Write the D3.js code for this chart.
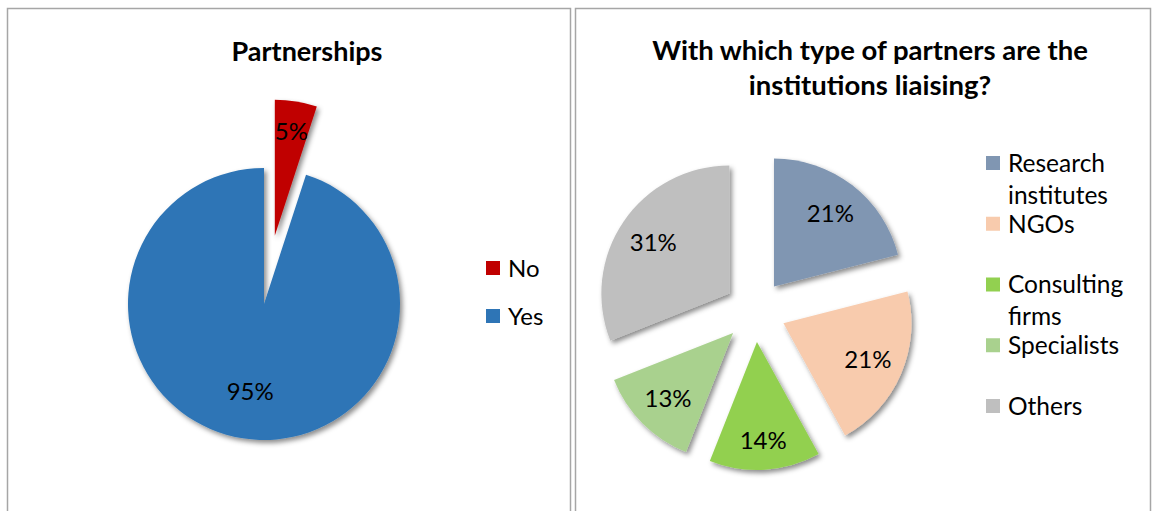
<!DOCTYPE html>
<html>
<head>
<meta charset="utf-8">
<script src="https://cdn.jsdelivr.net/npm/d3@7"></script>
<style>
  html, body { margin: 0; padding: 0; background: #fff; }
  svg { display: block; }
  text { font-family: Lato, "Open Sans", sans-serif; fill: #000; }
</style>
</head>
<body>
<svg id="chart" width="1154" height="511"></svg>
<script>
// Partnerships: share of institutions with / without partners
const partnershipCategories = ["No", "Yes"];
const partnershipValues = [5, 95];
const partnershipColors = ["#C00000", "#2E75B6"];

// Types of partners the institutions liaise with
const partnerTypes = ["Research institutes", "NGOs", "Consulting firms", "Specialists", "Others"];
const partnerValues = [21, 21, 14, 13, 31];
const partnerColors = ["#8096B2", "#F8CBAD", "#92D050", "#A9D18E", "#BFBFBF"];

const chartTitles = ["Partnerships", "With which type of partners are the institutions liaising?"];

const svg = d3.select("#chart");

// soft drop shadow under the slices
const defs = svg.append("defs");
const shadow = defs.append("filter").attr("id", "sliceShadow")
  .attr("x", "-20%").attr("y", "-20%").attr("width", "140%").attr("height", "140%");
shadow.append("feDropShadow")
  .attr("dx", 2.5).attr("dy", 3).attr("stdDeviation", 2.5)
  .attr("flood-color", "#000").attr("flood-opacity", 0.45);

// panel frames
const frames = [
  { x: 7.5, y: 8.5, w: 563, h: 510 },
  { x: 575.5, y: 8.5, w: 575, h: 510 }
];
svg.selectAll("rect.frame").data(frames).join("rect")
  .attr("class", "frame")
  .attr("x", d => d.x).attr("y", d => d.y)
  .attr("width", d => d.w).attr("height", d => d.h)
  .attr("fill", "none").attr("stroke", "#a6a6a6").attr("stroke-width", 1.5);

function drawPie(g, opts) {
  const pie = d3.pie().sort(null).value(d => d.value);
  const arcs = pie(opts.data);
  const arc = d3.arc().innerRadius(0).outerRadius(opts.r);

  const slice = g.selectAll("g.slice").data(arcs).join("g")
    .attr("class", "slice")
    .attr("transform", d => {
      const a = (d.startAngle + d.endAngle) / 2;
      const e = opts.explode(d);
      return `translate(${e * Math.sin(a)},${-e * Math.cos(a)})`;
    });

  slice.append("path")
    .attr("d", arc)
    .attr("fill", d => d.data.color)
    .attr("filter", "url(#sliceShadow)");

  slice.append("text")
    .attr("transform", d => {
      const lr = opts.labelR(d);
      return `translate(${d3.arc().innerRadius(lr).outerRadius(lr).centroid(d)})`;
    })
    .attr("text-anchor", "middle")
    .attr("dy", "0.36em")
    .style("font-size", opts.labelSize + "px")
    .text(d => d.data.value + "%");
}

function drawLegend(g, items, step, lineStep, fontSize) {
  const item = g.selectAll("g.item").data(items).join("g")
    .attr("class", "item")
    .attr("transform", (d, i) => `translate(0,${i * step})`);
  item.append("rect")
    .attr("x", 0).attr("y", -7).attr("width", 14).attr("height", 14)
    .attr("fill", d => d.color);
  const t = item.append("text")
    .style("font-size", fontSize + "px");
  t.selectAll("tspan").data(d => d.lines).join("tspan")
    .attr("x", 22)
    .attr("y", (d, i) => i * lineStep)
    .attr("dy", "0.36em")
    .text(d => d);
}

// ---- left panel: Partnerships ----
svg.append("text")
  .attr("x", 307).attr("y", 61)
  .attr("text-anchor", "middle")
  .style("font-size", "27px").style("font-weight", "bold")
  .text(chartTitles[0]);

const leftData = partnershipCategories.map((c, i) => ({ name: c, value: partnershipValues[i], color: partnershipColors[i] }));
drawPie(svg.append("g").attr("transform", "translate(264,304)"), {
  data: leftData, r: 136,
  labelR: d => d.data.name === "No" ? 106 : 88,
  explode: d => d.data.name === "No" ? 69 : 0,
  labelSize: 24
});

drawLegend(svg.append("g").attr("transform", "translate(486,268)"),
  leftData.map(d => ({ color: d.color, lines: [d.name] })), 48, 32, 24);

// ---- right panel: partner types ----
const titleWords = chartTitles[1].split(" ");
const titleLines = [titleWords.slice(0, 7).join(" "), titleWords.slice(7).join(" ")];
svg.append("text")
  .attr("text-anchor", "middle")
  .style("font-size", "27.5px").style("font-weight", "bold")
  .selectAll("tspan").data(titleLines).join("tspan")
  .attr("x", 870).attr("y", (d, i) => 60 + i * 35)
  .text(d => d);

const rightData = partnerTypes.map((c, i) => ({ name: c, value: partnerValues[i], color: partnerColors[i] }));
drawPie(svg.append("g").attr("transform", "translate(755,311)"), {
  data: rightData, r: 128,
  labelR: d => d.data.name === "Consulting firms" ? 99 : 92,
  explode: () => 31,
  labelSize: 24
});

drawLegend(svg.append("g").attr("transform", "translate(986,163)"),
  rightData.map(d => ({ color: d.color, lines: d.name.split(" ") })), 60.75, 32, 24.5);
</script>
</body>
</html>
